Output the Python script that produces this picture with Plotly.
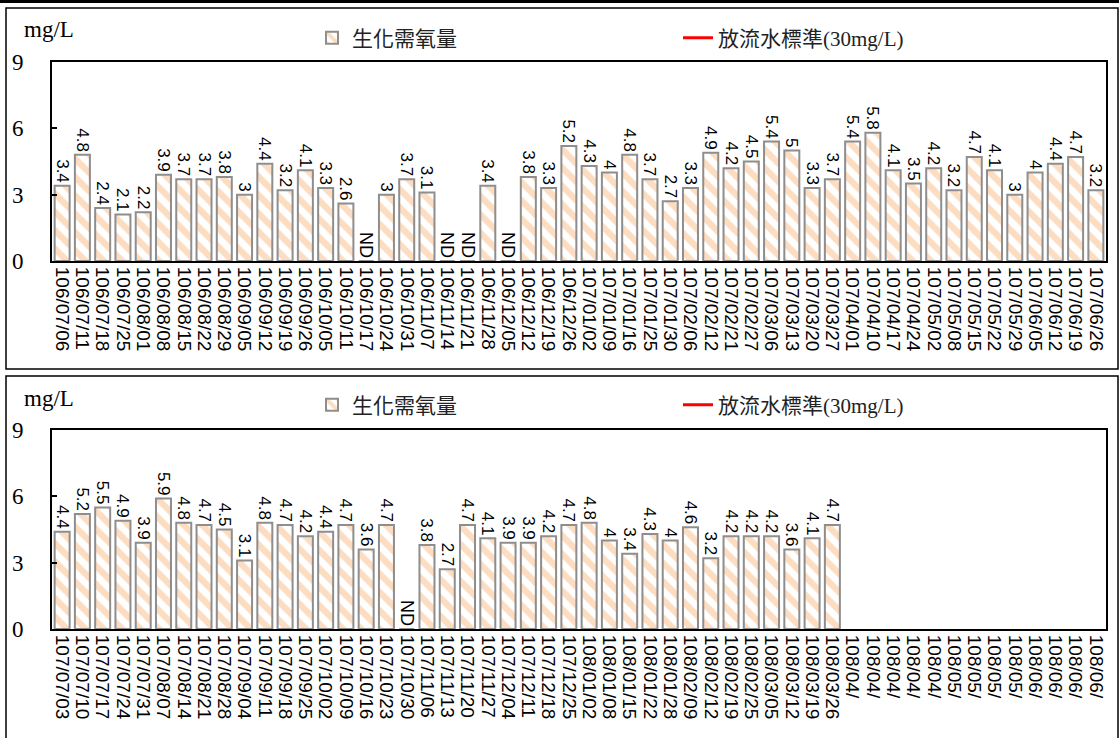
import plotly.graph_objects as go

# ---------------- data ----------------
top_labels = [
    "106/07/06", "106/07/11", "106/07/18", "106/07/25", "106/08/01", "106/08/08",
    "106/08/15", "106/08/22", "106/08/29", "106/09/05", "106/09/12", "106/09/19",
    "106/09/26", "106/10/05", "106/10/11", "106/10/17", "106/10/24", "106/10/31",
    "106/11/07", "106/11/14", "106/11/21", "106/11/28", "106/12/05", "106/12/12",
    "106/12/19", "106/12/26", "107/01/02", "107/01/09", "107/01/16", "107/01/25",
    "107/01/30", "107/02/06", "107/02/12", "107/02/21", "107/02/27", "107/03/06",
    "107/03/13", "107/03/20", "107/03/27", "107/04/01", "107/04/10", "107/04/17",
    "107/04/24", "107/05/02", "107/05/08", "107/05/15", "107/05/22", "107/05/29",
    "107/06/05", "107/06/12", "107/06/19", "107/06/26",
]
top_bod = [
    3.4, 4.8, 2.4, 2.1, 2.2, 3.9, 3.7, 3.7, 3.8, 3, 4.4, 3.2, 4.1, 3.3, 2.6, "ND",
    3, 3.7, 3.1, "ND", "ND", 3.4, "ND", 3.8, 3.3, 5.2, 4.3, 4, 4.8, 3.7, 2.7, 3.3,
    4.9, 4.2, 4.5, 5.4, 5, 3.3, 3.7, 5.4, 5.8, 4.1, 3.5, 4.2, 3.2, 4.7, 4.1, 3,
    4, 4.4, 4.7, 3.2,
]

bottom_labels = [
    "107/07/03", "107/07/10", "107/07/17", "107/07/24", "107/07/31", "107/08/07",
    "107/08/14", "107/08/21", "107/08/28", "107/09/04", "107/09/11", "107/09/18",
    "107/09/25", "107/10/02", "107/10/09", "107/10/16", "107/10/23", "107/10/30",
    "107/11/06", "107/11/13", "107/11/20", "107/11/27", "107/12/04", "107/12/11",
    "107/12/18", "107/12/25", "108/01/02", "108/01/08", "108/01/15", "108/01/22",
    "108/01/28", "108/02/09", "108/02/12", "108/02/19", "108/02/25", "108/03/05",
    "108/03/12", "108/03/19", "108/03/26", "108/04/", "108/04/", "108/04/",
    "108/04/", "108/04/", "108/05/", "108/05/", "108/05/", "108/05/", "108/06/",
    "108/06/", "108/06/", "108/06/",
]
bottom_bod = [
    4.4, 5.2, 5.5, 4.9, 3.9, 5.9, 4.8, 4.7, 4.5, 3.1, 4.8, 4.7, 4.2, 4.4, 4.7, 3.6,
    4.7, "ND", 3.8, 2.7, 4.7, 4.1, 3.9, 3.9, 4.2, 4.7, 4.8, 4, 3.4, 4.3, 4, 4.6,
    3.2, 4.2, 4.2, 4.2, 3.6, 4.1, 4.7,
    None, None, None, None, None, None, None, None, None, None, None, None, None,
]

standard_value = 30  # 放流水標準 (mg/L)
bar_name = "生化需氧量"
line_name = "放流水標準(30mg/L)"
y_ticks = [0, 3, 6, 9]

# ---------------- styles ----------------
W, H = 1119, 738
SERIF = "Liberation Serif, Times New Roman, Noto Sans CJK TC, serif"
SANS = "Liberation Sans, Arial, sans-serif"
LEGEND_FONT = "Liberation Serif, Noto Sans CJK TC, serif"
STRIPE = "#F9BC86"
OUTLINE = "#8E8E8E"


def px_x(p):
    return p / W


def px_y(p):
    return 1 - p / H


fig = go.Figure()


def add_panel(labels, values, xa, ya, legend_name):
    xs = list(range(len(labels)))
    ys, texts, sizes = [], [], []
    for v in values:
        if v == "ND":
            ys.append(0)
            texts.append("ND")
            sizes.append(18)
        elif v is None:
            ys.append(None)
            texts.append("")
            sizes.append(17)
        else:
            ys.append(v)
            texts.append(f"{v:g}")
            sizes.append(17)
    fig.add_trace(go.Bar(
        x=xs, y=ys, name=bar_name, xaxis=xa, yaxis=ya, legend=legend_name,
        text=texts, textposition="outside", textangle=90, constraintext="none",
        cliponaxis=False,
        textfont=dict(family=SANS, size=sizes, color="black"),
        marker=dict(color="white", line=dict(color=OUTLINE, width=2),
                    pattern=dict(shape="\\", fgcolor=STRIPE, bgcolor="white",
                                 size=13, solidity=0.5, fillmode="overlay")),
        showlegend=True,
    ))
    fig.add_trace(go.Scatter(
        x=xs, y=[standard_value] * len(xs), name=line_name, mode="lines",
        xaxis=xa, yaxis=ya, legend=legend_name,
        line=dict(color="#FF0000", width=3), showlegend=True,
    ))


add_panel(top_labels, top_bod, "x", "y", "legend")
add_panel(bottom_labels, bottom_bod, "x2", "y2", "legend2")

xdom = [px_x(52), px_x(1106)]
axis_common_x = dict(
    showline=True, linecolor="black", linewidth=2, mirror=True,
    ticks="", showgrid=False, zeroline=False, tickangle=90,
    tickfont=dict(family=SANS, size=19, color="black"),
    range=[-0.5, 51.5],
)
axis_common_y = dict(
    range=[0, 9], tickvals=y_ticks, showline=True, linecolor="black",
    linewidth=2, mirror=True, ticks="inside", ticklen=5, tickwidth=1.5,
    tickcolor="black", showgrid=False, zeroline=False,
    tickfont=dict(family=SERIF, size=23, color="black"),
    ticklabelstandoff=22,
)

legend_common = dict(orientation="h", xanchor="left", yanchor="middle",
                     font=dict(family=LEGEND_FONT, size=21, color="#222"),
                     entrywidth=321, entrywidthmode="pixels",
                     bgcolor="rgba(0,0,0,0)")

fig.update_layout(
    autosize=True, margin=dict(l=0, r=0, t=0, b=0, autoexpand=False),
    paper_bgcolor="white", plot_bgcolor="white",
    bargap=0.26, barmode="overlay",
    xaxis=dict(domain=xdom, anchor="y", tickvals=list(range(len(top_labels))),
               ticktext=top_labels, **axis_common_x),
    yaxis=dict(domain=[px_y(261), px_y(62)], anchor="x", **axis_common_y),
    xaxis2=dict(domain=xdom, anchor="y2", tickvals=list(range(len(bottom_labels))),
                ticktext=bottom_labels, **axis_common_x),
    yaxis2=dict(domain=[px_y(629), px_y(430)], anchor="x2", **axis_common_y),
    legend=dict(x=px_x(312), y=px_y(38), **legend_common),
    legend2=dict(x=px_x(312), y=px_y(405), **legend_common),
    annotations=[
        dict(text="mg/L", xref="paper", yref="paper", x=px_x(22), y=px_y(29),
             xanchor="left", yanchor="middle", showarrow=False,
             font=dict(family=SERIF, size=23, color="black")),
        dict(text="mg/L", xref="paper", yref="paper", x=px_x(22), y=px_y(398),
             xanchor="left", yanchor="middle", showarrow=False,
             font=dict(family=SERIF, size=23, color="black")),
    ],
    shapes=[
        dict(type="line", xref="paper", yref="paper", x0=0, x1=1, y0=px_y(1.5),
             y1=px_y(1.5), line=dict(color="black", width=3)),
        dict(type="rect", xref="paper", yref="paper", x0=px_x(6), x1=px_x(1118),
             y0=px_y(369), y1=px_y(8), line=dict(color="black", width=1.5)),
        dict(type="rect", xref="paper", yref="paper", x0=px_x(6), x1=px_x(1118),
             y0=px_y(745), y1=px_y(376), line=dict(color="black", width=1.5)),
    ],
)

fig.write_html(
    "out.html",
    config=dict(displayModeBar=False, responsive=True),
    default_width="100vw",
    default_height="100vh",
    post_script=(
        "document.documentElement.style.margin='0';"
        "document.body.style.margin='0';"
        "document.body.style.overflow='hidden';"
        "Plotly.Plots.resize(document.getElementById('{plot_id}'));"
    ),
)
